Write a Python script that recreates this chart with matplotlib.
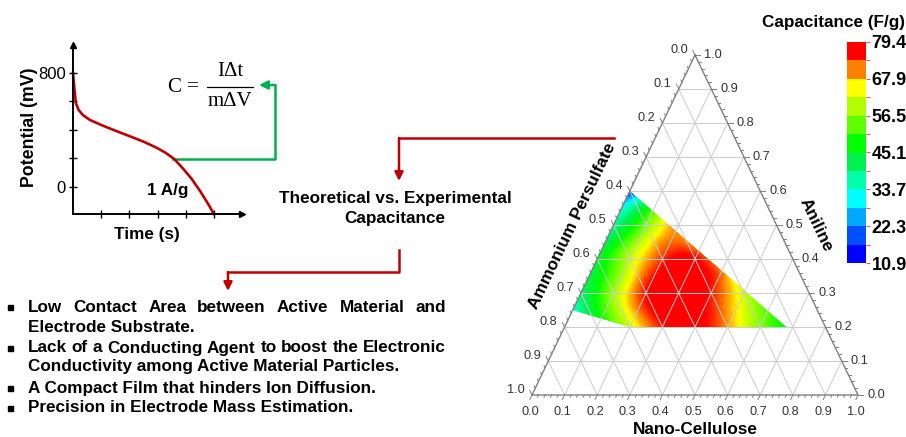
import numpy as np
import matplotlib
matplotlib.use("Agg")
import matplotlib.pyplot as plt
import matplotlib.tri as mtri
from matplotlib.colors import LinearSegmentedColormap, ListedColormap, BoundaryNorm
from matplotlib.cm import ScalarMappable
from matplotlib.patches import Polygon

plt.rcParams['font.family'] = ['Liberation Sans', 'DejaVu Sans']

# galvanostatic discharge curve (1 A/g)
time_s = [0, 0.05, 0.1, 0.2, 0.35, 0.6, 1.0, 1.5, 2.0, 2.5, 3.0, 3.3, 3.6, 3.9, 4.2, 4.5, 4.8, 5.0]
potential_mv = [800, 690, 590, 540, 505, 470, 435, 395, 357, 318, 272, 238, 195, 130, 60, -25, -120, -190]
time_ticks = [1, 2, 3, 4, 5]
pot_ticks = [0, 200, 400, 600, 800]
pot_labels = ["0", "", "", "", "800"]

# ternary response surface: (aniline, nano-cellulose) -> capacitance (F/g)
aniline = [0.6,
           0.55, 0.55,
           0.5, 0.5, 0.5,
           0.45, 0.45, 0.45, 0.45,
           0.4, 0.4, 0.4, 0.4, 0.4,
           0.35, 0.35, 0.35, 0.35, 0.35, 0.35,
           0.3, 0.3, 0.3, 0.3, 0.3, 0.3, 0.3,
           0.25, 0.25, 0.25, 0.25, 0.25, 0.25, 0.25,
           0.225,
           0.2, 0.2, 0.2, 0.2, 0.2, 0.2]
nano_cellulose = [0.0,
                  0.0, 0.085,
                  0.0, 0.1, 0.17,
                  0.0, 0.1, 0.2, 0.255,
                  0.0, 0.1, 0.2, 0.3, 0.34,
                  0.0, 0.1, 0.2, 0.3, 0.4, 0.425,
                  0.0, 0.1, 0.2, 0.3, 0.4, 0.5, 0.51,
                  0.0, 0.1, 0.2, 0.3, 0.4, 0.5, 0.595,
                  0.1,
                  0.2, 0.3, 0.4, 0.5, 0.6, 0.68]
capacitance = [12,
               31, 49,
               37, 56, 70,
               41, 60, 74, 72,
               44, 62, 77, 80, 75,
               42, 60, 79, 83, 75, 70,
               39, 59, 79, 84, 78, 63, 61,
               33, 53, 73, 83, 80, 68, 54,
               49,
               63, 78, 81, 72, 57, 47]
region_aniline = [0.6, 0.2, 0.2, 0.25]
region_nc = [0.0, 0.68, 0.2, 0.0]

tern_ticks = [0.0, 0.1, 0.2, 0.3, 0.4, 0.5, 0.6, 0.7, 0.8, 0.9, 1.0]

cbar_levels = [10.9, 16.6, 22.3, 28.0, 33.7, 39.4, 45.1, 50.8, 56.5, 62.2, 67.9, 73.6, 79.4]
cbar_colors = ['#0000ff', '#0050ff', '#00a8ff', '#00ffff', '#00ffa8', '#00f050',
               '#00ff00', '#60ff00', '#b0ff00', '#ffff00', '#ff8000', '#ff0000']

bullet_lines = ["Low Contact Area between Active Material and",
                "Electrode Substrate.",
                "Lack of a Conducting Agent to boost the Electronic",
                "Conductivity among Active Material Particles.",
                "A Compact Film that hinders Ion Diffusion.",
                "Precision in Electrode Mass Estimation."]
bullet_start = [True, False, True, False, True, True]
bullet_justify = [True, False, True, False, False, False]

RED = '#c00000'
GREEN = '#00b050'
BOLD = dict(fontsize=12.3, fontweight='bold')

fig = plt.figure(figsize=(9.06, 4.37), dpi=100)
ax = fig.add_axes([0, 0, 1, 1])
ax.set_xlim(0, 906)
ax.set_ylim(437, 0)
ax.axis('off')

# ternary frame in figure pixels
X0, Y0, W, H = 532, 395, 326, 340


def tern(an, nc):
    an = np.asarray(an, dtype=float)
    nc = np.asarray(nc, dtype=float)
    return X0 + W * (nc + an / 2), Y0 - H * an


# colour field
cmap = LinearSegmentedColormap.from_list('cap', cbar_colors)
px, py = tern(aniline, nano_cellulose)
tri = mtri.Triangulation(px, py)
tri.set_mask(mtri.TriAnalyzer(tri).get_flat_tri_mask(0.01))
interp = mtri.CubicTriInterpolator(tri, capacitance, kind='min_E')
tri_f, z_f = mtri.UniformTriRefiner(tri).refine_field(capacitance, triinterpolator=interp, subdiv=4)
field = ax.tripcolor(tri_f, z_f, cmap=cmap, vmin=cbar_levels[0], vmax=cbar_levels[-1],
                     shading='gouraud', zorder=2)
rx, ry = tern(region_aniline, region_nc)
clip = Polygon(np.column_stack([rx, ry]), closed=True, facecolor='none', edgecolor='none')
ax.add_patch(clip)
field.set_clip_path(clip)

# grid
for v in tern_ticks[1:-1]:
    for a, b in [((v, 0), (v, 1 - v)), ((0, v), (1 - v, v)), ((0, 1 - v), (1 - v, 0))]:
        gx, gy = tern([a[0], b[0]], [a[1], b[1]])
        ax.plot(gx, gy, color='#cccccc', lw=0.7, zorder=3)
ex, ey = tern([1, 0, 0, 1], [0, 0, 1, 0])
ax.plot(ex, ey, color='#808080', lw=1.0, zorder=4)

# ticks
bdir = np.array([-0.432, 0.902])
ldir = np.array([-0.432, -0.902])
rdir = np.array([1.0, 0.0])
for i in range(51):
    v = i / 50
    L = 5 if i % 5 == 0 else 2.5
    for (tx, ty), d in [(tern(0, v), bdir), (tern(1 - v, 0), ldir), (tern(v, 1 - v), rdir)]:
        ax.plot([tx, tx + L * d[0]], [ty, ty + L * d[1]], color='#808080', lw=0.7, zorder=4)

lab_kw = dict(fontsize=9.2, color='#333333', va='center')
for v in tern_ticks:
    bx, by = tern(0, v)
    ax.text(bx - 2, by + 17, f"{v:.1f}", ha='center', **lab_kw)
    lx, ly = tern(1 - v, 0)
    ax.text(lx - 7, ly - 5, f"{v:.1f}", ha='right', **lab_kw)
    qx, qy = tern(v, 1 - v)
    ax.text(qx + 9, qy, f"{v:.1f}", ha='left', **lab_kw)

ang = np.degrees(np.arctan2(H, W / 2))
ax.text(695, 430, "Nano-Cellulose", ha='center', va='center', **BOLD)
ax.text(572, 226, "Ammonium Persulfate", ha='center', va='center',
        rotation=ang, rotation_mode='anchor', **BOLD)
ax.text(816, 225, "Aniline", ha='center', va='center',
        rotation=-ang, rotation_mode='anchor', **BOLD)

# colour bar
cax = fig.add_axes([847 / 906, (437 - 263) / 437, 19 / 906, 221 / 437])
cb = fig.colorbar(ScalarMappable(norm=BoundaryNorm(cbar_levels, len(cbar_colors)),
                                 cmap=ListedColormap(cbar_colors)), cax=cax, ticks=cbar_levels)
cb.outline.set_visible(False)
cax.set_yticklabels([f"{v:.1f}" if i % 2 == 0 else "" for i, v in enumerate(cbar_levels)])
cax.tick_params(axis='y', length=3, width=0.8, color='#ff5050', pad=1, labelsize=13)
for t in cax.get_yticklabels():
    t.set_fontweight('bold')
ax.text(834, 22, "Capacitance (F/g)", ha='center', va='center', **BOLD)

# discharge curve inset
axd = fig.add_axes([73 / 906, (437 - 214) / 437, (242 - 73) / 906, (214 - 45) / 437])
axd.patch.set_alpha(0)
axd.plot(time_s, potential_mv, color=RED, lw=1.9, clip_on=False)
axd.set_xlim(0, 6.0)
axd.set_ylim(-190, 996)
for s in ['top', 'right']:
    axd.spines[s].set_visible(False)
for s in ['left', 'bottom']:
    axd.spines[s].set_linewidth(1.4)
axd.set_xticks(time_ticks)
axd.set_xticklabels([])
axd.set_yticks(pot_ticks)
axd.set_yticklabels(pot_labels)
axd.tick_params(direction='inout', length=6, width=1, labelsize=12, pad=2)
axd.plot(1, 0, '>k', ms=5, transform=axd.transAxes, clip_on=False)
axd.plot(0, 1, '^k', ms=5, transform=axd.transAxes, clip_on=False)

ax.text(30, 127, "Potential (mV)", rotation=90, ha='center', va='center', fontsize=12.8, fontweight='bold')
ax.text(147, 234, "Time (s)", ha='center', va='center', **BOLD)
ax.text(168, 190, "1 A/g", ha='center', va='center', **BOLD)

# formula
serif = dict(family=['Liberation Serif', 'DejaVu Serif'], fontsize=15, va='center')
ax.text(183, 88, "C =", ha='center', **serif)
ax.text(230, 72, "I\u0394t", ha='center', **serif)
ax.text(230, 102, "m\u0394V", ha='center', **serif)
ax.plot([207, 253], [87, 87], color='black', lw=0.9)


def arrow(xs, ys, color):
    ax.plot(xs[:-1], ys[:-1], color=color, lw=1.8, solid_capstyle='projecting')
    ax.annotate('', xy=(xs[-1], ys[-1]), xytext=(xs[-2], ys[-2]),
                arrowprops=dict(arrowstyle='-|>,head_length=0.5,head_width=0.25', color=color,
                                lw=1.8, shrinkA=0, shrinkB=0))


arrow([173, 275, 275, 259], [159, 159, 85, 85], GREEN)
arrow([614, 399, 399], [138, 138, 181], RED)
arrow([399, 399, 228, 228], [250, 272, 272, 291], RED)

ax.text(395, 198, "Theoretical vs. Experimental", ha='center', va='center', **BOLD)
ax.text(395, 218, "Capacitance", ha='center', va='center', **BOLD)

# bullet list
fig.canvas.draw()
rend = fig.canvas.get_renderer()
line_y = [307, 327, 348, 367, 388, 408]
for txt, y, start, just in zip(bullet_lines, line_y, bullet_start, bullet_justify):
    if start:
        ax.plot(10, y, 's', color='black', ms=3.6)
    if just:
        words = txt.split()
        ts = [ax.text(0, y, w, ha='left', va='center', **BOLD) for w in words]
        widths = [t.get_window_extent(rend).width for t in ts]
        gap = (446 - 28 - sum(widths)) / (len(words) - 1)
        x = 28
        for t, w in zip(ts, widths):
            t.set_x(x)
            x += w + gap
    else:
        ax.text(28, y, txt, ha='left', va='center', **BOLD)

fig.savefig('out.png', dpi=100)
